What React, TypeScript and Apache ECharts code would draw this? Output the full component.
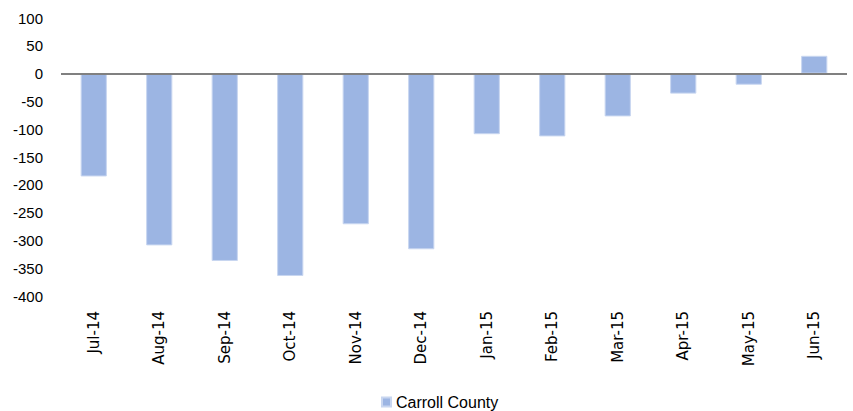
import React, { useEffect, useRef } from "react";
import * as echarts from "echarts";

const categories = ["Jul-14", "Aug-14", "Sep-14", "Oct-14", "Nov-14", "Dec-14", "Jan-15", "Feb-15", "Mar-15", "Apr-15", "May-15", "Jun-15"];
const carrollCounty = [-185, -309, -337, -364, -271, -316, -109, -113, -77, -36, -20, 32];
const seriesName = "Carroll County";

export default function App() {
  const ref = useRef<HTMLDivElement>(null);
  useEffect(() => {
    if (!ref.current) return;
    const chart = echarts.init(ref.current, null, { renderer: "svg" });
    chart.setOption({
      animation: false,
      backgroundColor: "#ffffff",
      grid: { left: 61, right: 6, top: 18, bottom: 115 },
      legend: {
        data: [seriesName],
        left: 376,
        top: 389,
        itemWidth: 9,
        itemHeight: 9,
        itemGap: 6,
        icon: "rect",
        textStyle: { fontFamily: "Liberation Sans", fontSize: 16, color: "#000" },
      },
      xAxis: {
        type: "category",
        data: categories,
        axisLine: { show: false, onZero: false },
        axisTick: { show: false },
        axisLabel: {
          rotate: 90,
          margin: 15,
          fontFamily: "DejaVu Sans",
          fontSize: 15,
          color: "#000",
        },
      },
      yAxis: {
        type: "value",
        min: -400,
        max: 100,
        interval: 50,
        axisLine: { show: false },
        axisTick: { show: false },
        splitLine: { show: false },
        axisLabel: {
          margin: 18,
          fontFamily: "Liberation Sans",
          fontSize: 15,
          color: "#000",
        },
      },
      series: [
        {
          name: seriesName,
          type: "bar",
          data: carrollCounty,
          barWidth: "40%",
          itemStyle: { color: "#9CB5E3", borderColor: "#C8D6F0", borderWidth: 1 },
          markLine: {
            silent: true,
            symbol: "none",
            label: { show: false },
            lineStyle: { color: "#808080", width: 2, type: "solid" },
            data: [{ yAxis: 0 }],
          },
        },
      ],
    });
    return () => chart.dispose();
  }, []);
  return <div ref={ref} style={{ width: 853, height: 411, position: "absolute", left: 0, top: 0 }} />;
}
